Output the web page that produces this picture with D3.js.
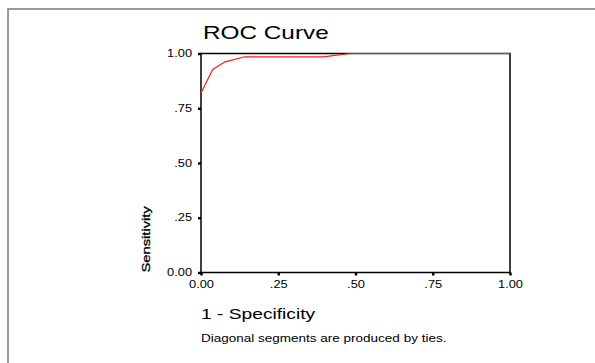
<!DOCTYPE html>
<html>
<head>
<meta charset="utf-8">
<script src="https://cdn.jsdelivr.net/npm/d3@7"></script>
<style>
  body { margin: 0; background: #fff; }
  text { font-family: Arial, "Liberation Sans", sans-serif; fill: #000; }
</style>
</head>
<body>
<div id="chart"></div>
<script>

// ROC points (1 - specificity, sensitivity)
var aFpr = [0, 0.038, 0.078, 0.142, 0.396, 0.482, 1];
var aTpr = [0.82, 0.927, 0.962, 0.985, 0.985, 1, 1];

var aTicks = [0, 0.25, 0.5, 0.75, 1];
var aTickLabels = ["0.00", ".25", ".50", ".75", "1.00"];

var sTitle = "ROC Curve";
var sXLabel = "1 - Specificity";
var sYLabel = "Sensitivity";
var sNote = "Diagonal segments are produced by ties.";

var w = 595, h = 363;
var stretch = 1.28; // text in the picture is a bit wider than normal

var svg = d3.select("#chart").append("svg")
    .attr("width", w)
    .attr("height", h)

// frame round the page
svg.append("path")
    .attr("d", "M8," + h + "V9H" + w)
    .attr("fill", "none")
    .attr("stroke", "#7a7a7a")
    .attr("stroke-width", 1.5)

var plotLeft = 201, plotRight = 510, plotTop = 53.5, plotBottom = 272.5;

var x = d3.scaleLinear().domain([0, 1]).range([plotLeft, plotRight]);
var y = d3.scaleLinear().domain([0, 1]).range([plotBottom, plotTop]);

function tickLabel(d){
    return aTickLabels[aTicks.indexOf(d)];
}

// box
svg.append("rect")
    .attr("x", plotLeft)
    .attr("y", plotTop)
    .attr("width", plotRight - plotLeft)
    .attr("height", plotBottom - plotTop)
    .attr("fill", "none")
    .attr("stroke", "#000")
    .attr("stroke-width", 1.5)

var gx = svg.append("g")
    .attr("transform", "translate(0," + plotBottom + ")")
    .call(d3.axisBottom(x).tickValues(aTicks).tickFormat(tickLabel).tickSize(3).tickPadding(5))

var gy = svg.append("g")
    .attr("transform", "translate(" + plotLeft + ",0)")
    .call(d3.axisLeft(y).tickValues(aTicks).tickFormat(tickLabel).tickSize(3).tickPadding(6))

svg.selectAll(".domain").remove();
svg.selectAll(".tick line")
    .attr("stroke", "#000")
    .attr("stroke-width", 2.4)
svg.selectAll(".tick text")
    .attr("font-size", "10px")
    .attr("font-family", "Arial")
    .attr("fill", "#333")

var line = d3.line()
    .x(function(d){ return x(d[0]); })
    .y(function(d){ return y(d[1]); });

svg.append("path")
    .datum(d3.zip(aFpr, aTpr))
    .attr("d", line)
    .attr("fill", "none")
    .attr("stroke", "#ff1a1a")
    .attr("stroke-width", 1.2)

svg.append("text")
    .text(sTitle)
    .attr("x", 203)
    .attr("y", 39)
    .attr("font-size", "19px")

svg.append("text")
    .text(sXLabel)
    .attr("x", 201)
    .attr("y", 319)
    .attr("font-size", "15px")

svg.append("text")
    .text(sYLabel)
    .attr("transform", "translate(149.5," + plotBottom + ") rotate(-90)")
    .attr("font-size", "11.5px")
    .attr("stroke", "#000")
    .attr("stroke-width", 0.3)

svg.append("text")
    .attr("class", "note")
    .text(sNote)
    .attr("x", 201)
    .attr("y", 342)
    .attr("font-size", "10px")

// widen the text like the picture
svg.selectAll("text").each(function(){
    var len = this.getComputedTextLength();
    var k = d3.select(this).classed("note") ? 1.35 : stretch;
    d3.select(this)
        .attr("textLength", len * k)
        .attr("lengthAdjust", "spacingAndGlyphs")
})

</script>
</body>
</html>
